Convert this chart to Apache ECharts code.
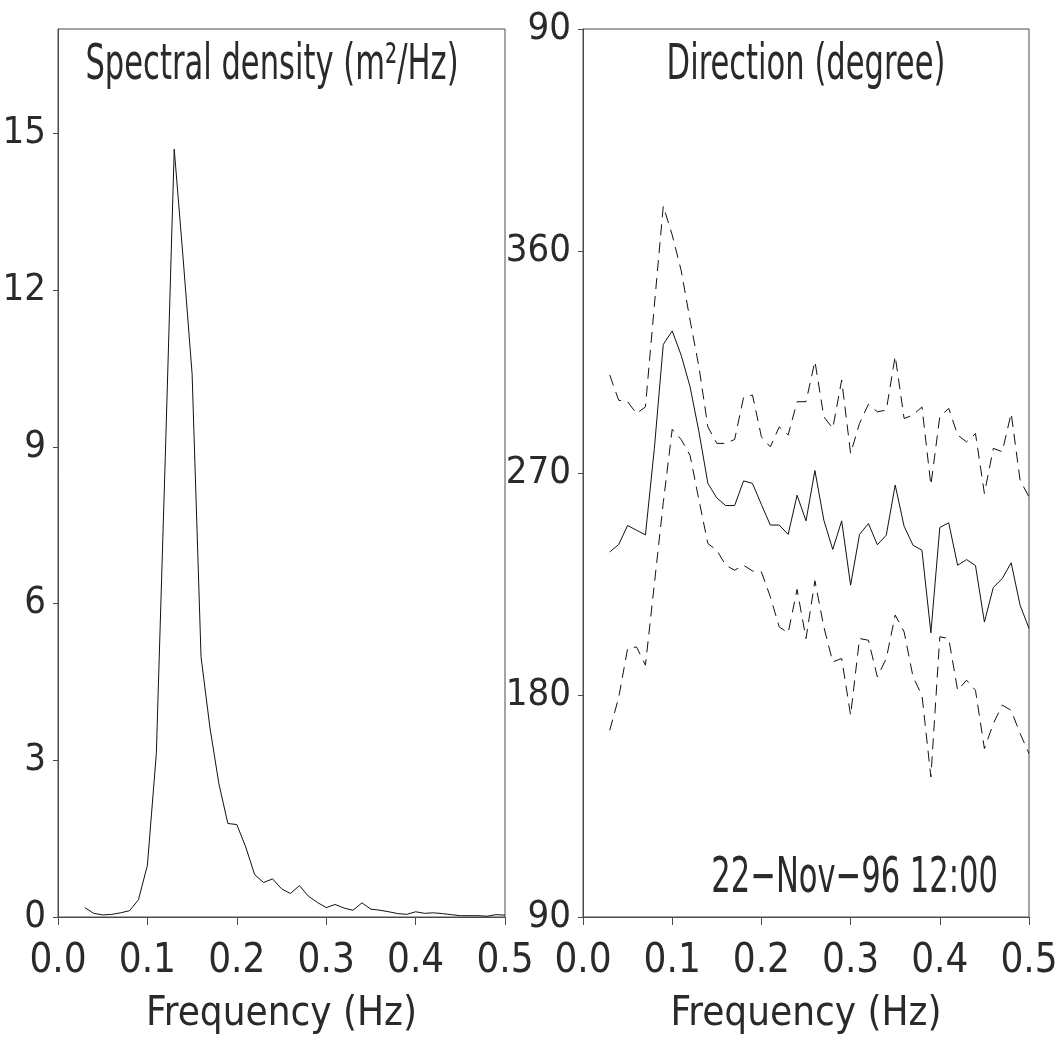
<!DOCTYPE html>
<html>
<head>
<meta charset="utf-8">
<script src="https://cdn.jsdelivr.net/npm/echarts@6/dist/echarts.min.js"></script>
<style>
html,body{margin:0;padding:0;background:#fff;}
#chart{width:1055px;height:1050px;}
</style>
</head>
<body>
<div id="chart"></div>
<script>
const freq = [0.03,0.04,0.05,0.06,0.07,0.08,0.09,0.10,0.11,0.12,0.13,0.14,0.15,0.16,0.17,0.18,0.19,0.20,
  0.21,0.22,0.23,0.24,0.25,0.26,0.27,0.28,0.29,0.30,0.31,0.32,0.33,0.34,0.35,0.36,0.37,0.38,0.39,0.40,
  0.41,0.42,0.43,0.44,0.45,0.46,0.47,0.48,0.49,0.50];

const spectralDensity = [0.18,0.07,0.04,0.05,0.08,0.12,0.33,0.99,3.13,8.8,14.7,12.6,10.4,4.98,3.62,2.55,1.79,1.77,
  1.34,0.81,0.66,0.73,0.54,0.45,0.60,0.40,0.28,0.18,0.24,0.17,0.13,0.27,0.15,0.13,0.10,0.065,0.05,0.10,
  0.07,0.08,0.065,0.045,0.025,0.025,0.025,0.015,0.045,0.035];

const directionMean = [238.0,241.0,248.7,246.8,244.9,280,322.1,327.6,317.8,305,286.7,265.8,259.9,256.8,256.8,266.8,265.8,257.2,
  248.9,248.9,245.1,261.0,250.6,271.0,250.9,239.0,250.6,224.5,245.1,249.5,240.9,244.8,265.1,248.4,240.7,238.7,205.2,247.9,
  249.8,232.6,234.9,232.5,209.6,223.6,227.2,233.6,216.4,207.0];

const directionUpper = [309.7,299.5,298.9,294.1,296.8,338,378.2,366.5,352.2,332,313.0,288.7,282.0,282.0,283.6,300.6,301.6,284.7,
  280.6,288.7,285.4,298.9,298.9,315.3,292.8,288.1,307.7,277.9,290.1,297.9,294.8,295.5,317.4,292.1,293.5,296.8,265.1,292.8,
  296.2,285.4,282.6,286.0,261.7,280.0,278.6,294.2,267.1,260.3];

const directionLower = [165.7,179.0,198.8,199.5,192.1,225,258,287.7,283.6,277.2,259.0,241.4,238.7,232.6,230.6,232.6,230.3,229.9,
  219.8,207.6,205.2,222.8,202.9,226.3,207.6,193.4,194.8,171.8,202.9,202.2,187.3,194.8,212.4,205.6,187.3,179.9,146.8,203.6,
  202.9,181.9,186.0,181.9,158.3,168.4,175.9,173.8,164.4,156.3];

const spectralTicks = {min: 0, max: 17, interval: 3};
const directionTicks = {min: 90, max: 450, interval: 90};
const freqTicks = {min: 0, max: 0.5, interval: 0.1};

const titleLeft = 'Spectral density (m²/Hz)';
const titleRight = 'Direction (degree)';
const xName = 'Frequency (Hz)';
const dateText = '22\u2212Nov\u221296 12:00';

const FONT = '"Liberation Sans Narrow", "DejaVu Sans Condensed", "Liberation Sans", sans-serif';
const INK = '#2a2a2a';
const FRAME = '#4a4a4a';
const TICK_FS = 38;

function pairs(xs, ys){ return xs.map((x,i)=>[x, ys[i]]); }

const grids = [
  {left: 58, top: 29, width: 447, height: 888, containLabel: false, outerBoundsMode: 'none',
   show: true, borderColor: FRAME, borderWidth: 1, backgroundColor: 'transparent'},
  {left: 583, top: 29, width: 446, height: 888, containLabel: false, outerBoundsMode: 'none',
   show: true, borderColor: FRAME, borderWidth: 1, backgroundColor: 'transparent'}
];

function xAxis(idx){
  return {
    gridIndex: idx, type: 'value', min: freqTicks.min, max: freqTicks.max, interval: freqTicks.interval,
    name: xName, nameLocation: 'middle', nameGap: 78,
    nameTextStyle: {fontFamily: FONT, fontSize: 40, color: INK},
    axisLine: {show: true, onZero: false, lineStyle: {color: FRAME, width: 1}},
    axisTick: {show: true, inside: false, length: 8, lineStyle: {color: FRAME}},
    axisLabel: {margin: 25, fontFamily: FONT, fontSize: 40, color: INK, formatter: v => v.toFixed(1),
      showMinLabel: true, showMaxLabel: true, hideOverlap: false},
    splitLine: {show: false}
  };
}

function headText(text, x, y, align){
  return {type: 'text', x: x, y: y, scaleX: 0.68, scaleY: 1, silent: true,
    style: {text: text, fontFamily: FONT, fontSize: 50, fill: INK, align: align, verticalAlign: 'middle'}};
}

const option = {
  backgroundColor: '#fff',
  animation: false,
  grid: grids,
  graphic: [
    headText(titleLeft, 272, 66, 'center'),
    headText(titleRight, 806, 66, 'center'),
    headText(dateText, 998, 879, 'right')
  ],
  xAxis: [xAxis(0), xAxis(1)],
  yAxis: [
    {gridIndex: 0, type: 'value', min: spectralTicks.min, max: spectralTicks.max, interval: spectralTicks.interval,
     axisLine: {show: true, lineStyle: {color: FRAME, width: 1}},
     axisTick: {show: true, inside: false, length: 5, lineStyle: {color: FRAME}},
     axisLabel: {margin: 12, fontFamily: FONT, fontSize: TICK_FS, color: INK, showMaxLabel: false, hideOverlap: false},
     splitLine: {show: false}},
    {gridIndex: 1, type: 'value', min: directionTicks.min, max: directionTicks.max, interval: directionTicks.interval,
     axisLine: {show: true, lineStyle: {color: FRAME, width: 1}},
     axisTick: {show: true, inside: false, length: 5, lineStyle: {color: FRAME}},
     axisLabel: {margin: 12, fontFamily: FONT, fontSize: TICK_FS, color: INK, hideOverlap: false,
       formatter: v => String(v > 360 ? v - 360 : v)},
     splitLine: {show: false}}
  ],
  series: [
    {type: 'line', xAxisIndex: 0, yAxisIndex: 0, data: pairs(freq, spectralDensity), symbol: 'none',
     lineStyle: {color: '#111', width: 1}},
    {type: 'line', xAxisIndex: 1, yAxisIndex: 1, data: pairs(freq, directionMean), symbol: 'none',
     lineStyle: {color: '#111', width: 1}},
    {type: 'line', xAxisIndex: 1, yAxisIndex: 1, data: pairs(freq, directionUpper), symbol: 'none',
     lineStyle: {color: '#111', width: 1, type: [11, 7]}},
    {type: 'line', xAxisIndex: 1, yAxisIndex: 1, data: pairs(freq, directionLower), symbol: 'none',
     lineStyle: {color: '#111', width: 1, type: [11, 7]}}
  ]
};

const chart = echarts.init(document.getElementById('chart'), null, {renderer: 'canvas'});
chart.setOption(option);
</script>
</body>
</html>
